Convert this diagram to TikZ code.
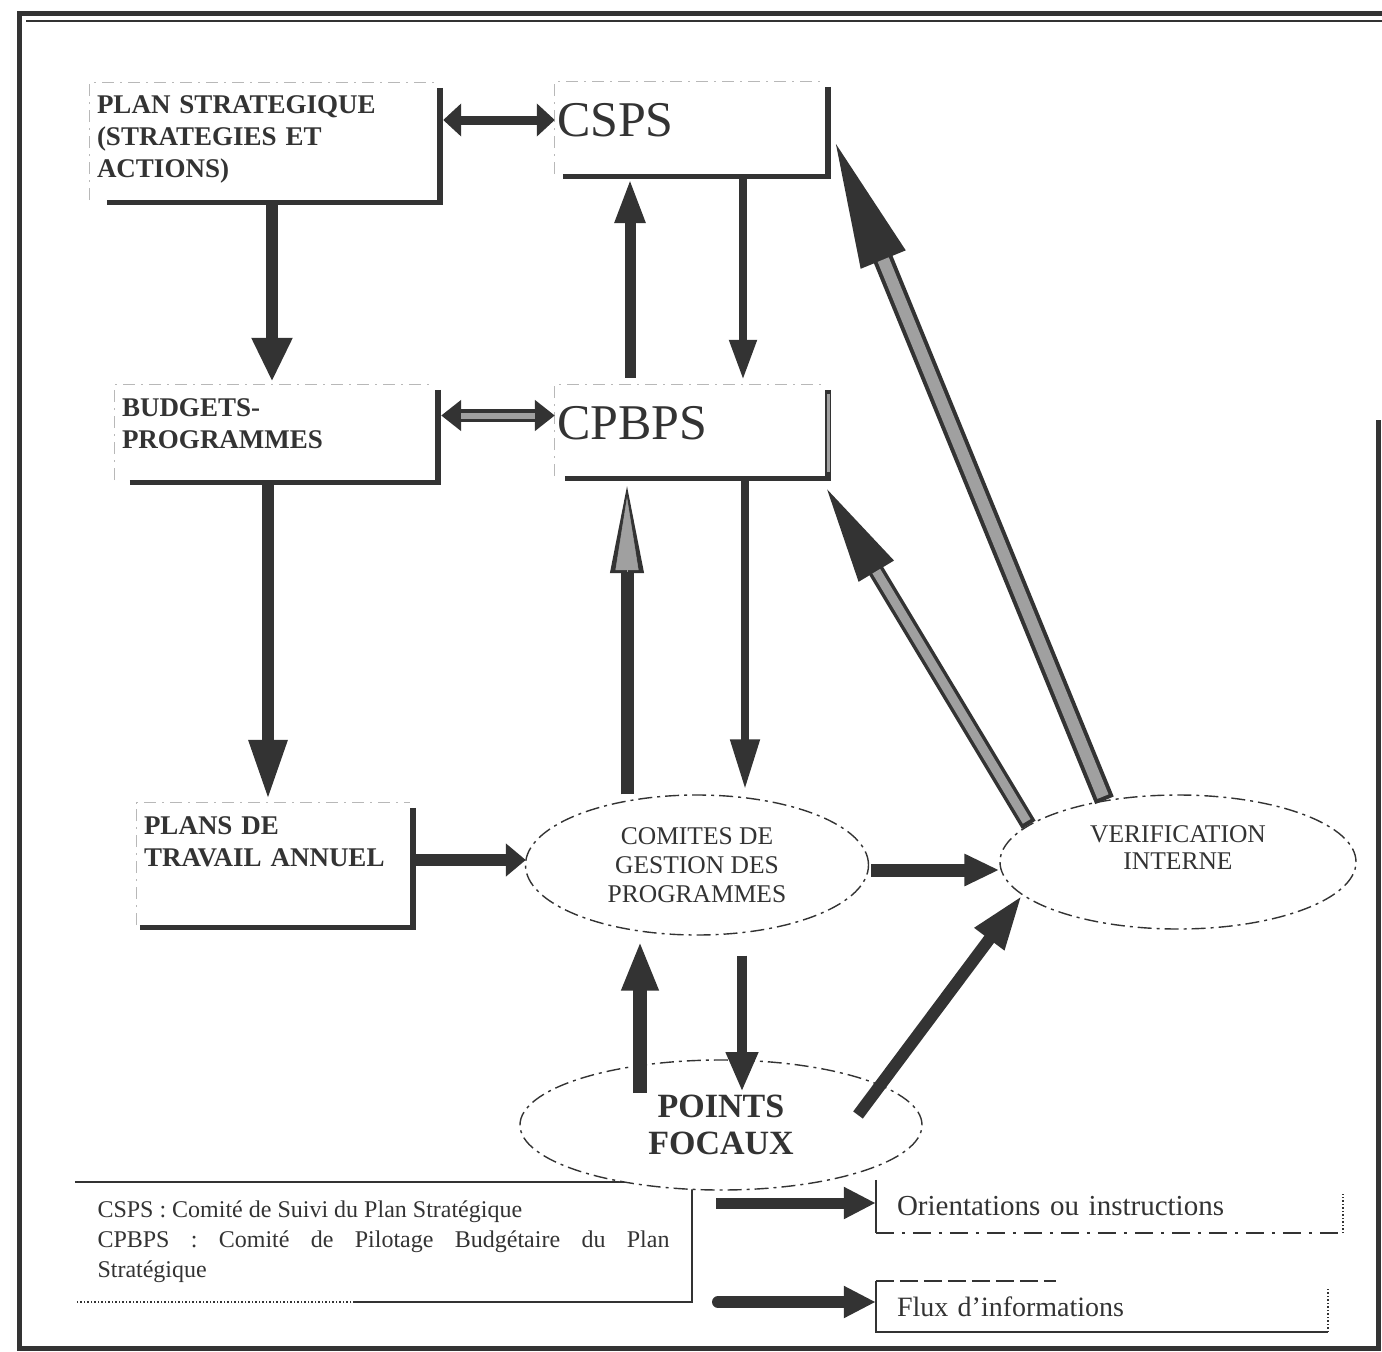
\documentclass[tikz,border=0pt]{standalone}
\usepackage{fontspec}
\setmainfont{Liberation Serif}
\usetikzlibrary{arrows.meta,shapes.geometric,calc}
\definecolor{ink}{HTML}{333333}
\definecolor{fillg}{HTML}{A0A0A0}
\newcommand\shbox[2]{%
  \draw[ink,line width=6pt] ([xshift=3pt,yshift=-5pt]#1.north east) -- ([xshift=3pt,yshift=-5pt]#1.south east);
  \draw[ink,line width=5pt] ([xshift=#2,yshift=-2.5pt]#1.south west) -- ([xshift=6pt,yshift=-2.5pt]#1.south east);
  \draw[faint] (#1.south west) -- (#1.north west) -- (#1.north east);
}
\begin{document}
\begin{tikzpicture}[x=1pt,y=-1pt,
  sbox/.style={rectangle, inner xsep=7pt, inner ysep=0pt, align=left, text=ink, font=\fontsize{27}{32}\selectfont\bfseries},
  bigbox/.style={rectangle, inner xsep=2pt, inner ysep=0pt, align=left, text=ink, font=\fontsize{50}{56}\selectfont, minimum width=270pt, text width=266pt, text depth=16pt},
  ell/.style={ellipse, draw=ink, line width=1.4pt, dash pattern=on 14pt off 5pt on 3pt off 5pt, fill=white, inner sep=0pt, align=center, text=ink},
  faint/.style={draw=black!28, line width=1pt, dash pattern=on 12pt off 6pt on 2pt off 6pt},
  legtxt/.style={rectangle, inner ysep=0pt, text=ink},
]
\useasboundingbox (0,0) rectangle (1382,1352);
% frame
\draw[ink, line width=5pt] (1378,420) -- (1378,1348) -- (19,1348) -- (19,13) -- (1382,13);
\draw[ink, line width=1.2pt] (26,21) -- (1382,21);

% boxes
\node[sbox, text width=333pt, minimum height=117pt, text depth=73pt] (ps) at (263.5,141.5) {PLAN STRATEGIQUE\\(STRATEGIES ET\\ACTIONS)};
\node[sbox, text width=306pt, minimum height=95pt, text depth=49pt] (bp) at (275,432.5) {BUDGETS-\\PROGRAMMES};
\node[sbox, text width=259pt, minimum height=122pt, text depth=76pt] (pt) at (273.5,864) {PLANS DE\\TRAVAIL ANNUEL};
\node[bigbox, minimum height=92pt] (csps) at (690,128) {CSPS};
\node[bigbox, minimum height=91pt] (cpbps) at (690,430.5) {CPBPS};
\shbox{ps}{17pt}
\shbox{bp}{15pt}
\shbox{pt}{3pt}
\shbox{csps}{8pt}
\shbox{cpbps}{10pt}
\draw[fillg, line width=3pt] ([xshift=3pt,yshift=-9pt]cpbps.north east) -- ([xshift=3pt,yshift=4pt]cpbps.south east);

% legend
\node[legtxt, inner xsep=22.5pt, text width=572pt, minimum height=120pt, align=justify, font=\fontsize{24}{30}\selectfont] (lg) at (383.5,1242) {CSPS : Comité de Suivi du Plan Stratégique\\CPBPS : Comité de Pilotage Budgétaire du Plan\linebreak Stratégique};
\draw[ink, line width=1.5pt] (lg.north west) -- (lg.north east) -- (lg.south east) -- ([xshift=280pt]lg.south west);
\draw[ink, line width=1.5pt, dotted] ([xshift=280pt]lg.south west) -- (lg.south west);
\node[legtxt, inner xsep=21pt, text width=425pt, minimum height=53pt, align=left, font=\fontsize{29}{30}\selectfont] (ori) at (1109.5,1206.5) {Orientations ou instructions};
\node[legtxt, inner xsep=21pt, text width=410pt, minimum height=51pt, align=left, font=\fontsize{28}{30}\selectfont] (flux) at (1102,1306.5) {Flux d'informations};
\draw[ink, line width=1.5pt] (ori.north west) -- (ori.south west);
\draw[ink, line width=1.5pt, dash pattern=on 18pt off 8pt on 3pt off 8pt] (ori.south west) -- (ori.south east);
\draw[ink, line width=1.5pt, dotted] (ori.south east) -- ([yshift=-14pt]ori.north east);
\draw[ink, line width=1.5pt] (flux.north west) -- (flux.south west) -- (flux.south east);
\draw[ink, line width=1.5pt, dash pattern=on 18pt off 6pt] (flux.north west) -- ([xshift=180pt]flux.north west);
\draw[ink, line width=1.5pt, dotted] (flux.south east) -- ([yshift=-6pt]flux.north east);

% ellipses
\node[ell, minimum width=343pt, minimum height=140pt, font=\fontsize{25.5}{29}\selectfont] (cgp) at (697,865) {COMITES DE\\GESTION DES\\PROGRAMMES};
\node[ell, minimum width=356pt, minimum height=134pt, font=\fontsize{25.5}{27}\selectfont, text depth=28pt] (ver) at (1178,862) {VERIFICATION\\INTERNE};
\node[ell, minimum width=402pt, minimum height=130pt, font=\fontsize{34}{37}\selectfont\bfseries] (pf) at (721,1125) {POINTS\\FOCAUX};

% arrows
\draw[ink, line width=9pt, {Triangle[length=18pt,width=32pt]}-{Triangle[length=18pt,width=32pt]}] ([xshift=6pt,yshift=21.5pt]ps.east) -- ([yshift=8pt]csps.west);
\draw[ink, line width=13pt, {Triangle[length=20pt,width=30pt]}-{Triangle[length=20pt,width=30pt]}] ([xshift=6pt,yshift=17pt]bp.east) -- ([yshift=15pt]cpbps.west);
\draw[fillg, line width=6pt, shorten <=20pt, shorten >=20pt] ([xshift=6pt,yshift=17pt]bp.east) -- ([yshift=15pt]cpbps.west);
\draw[ink, line width=12pt, -{Triangle[length=44pt,width=38pt]}] ([xshift=8.5pt,yshift=-5pt]ps.south) -- ([xshift=-3pt,yshift=3pt]bp.north);
\draw[ink, line width=12pt, -{Triangle[length=60pt,width=36pt]}] ([xshift=-7pt,yshift=-5pt]bp.south) -- ([xshift=-5.5pt,yshift=3pt]pt.north);
\draw[ink, line width=8pt, -{Triangle[length=40pt,width=26pt]}] ([xshift=53pt,yshift=-4pt]csps.south) -- ([xshift=53pt,yshift=5pt]cpbps.north);
\draw[ink, line width=11pt, -{Triangle[length=45pt,width=28pt]}] ([xshift=-60pt,yshift=7pt]cpbps.north) -- ([xshift=-60pt,yshift=-4pt]csps.south);
\draw[ink, line width=13pt, -{Triangle[length=95pt,width=30pt]}] ([xshift=-70pt]cgp.north) -- ([xshift=-63pt,yshift=-2pt]cpbps.south);
\draw[fillg, line width=0.5pt, shorten >=19pt, -{Triangle[length=73pt,width=23pt]}] ([xshift=-63pt,yshift=-96pt]cpbps.south) -- ([xshift=-63pt,yshift=-2pt]cpbps.south);
\draw[ink, line width=8pt, -{Triangle[length=50pt,width=28pt]}] ([xshift=55pt,yshift=-5pt]cpbps.south) -- ([xshift=48pt,yshift=5pt]cgp.north);
\draw[ink, line width=12pt, -{Triangle[length=20pt,width=32pt]}] ([xshift=6pt,yshift=4pt]pt.east) -- ([xshift=1pt,yshift=5pt]cgp.west);
\draw[ink, line width=13pt, -{Triangle[length=35pt,width=30pt]}] ([xshift=2pt,yshift=-5pt]cgp.east) -- ([yshift=-8pt]ver.west);
\draw[ink, line width=14pt, -{Triangle[length=50pt,width=34pt]}] ([xshift=-81pt,yshift=32pt]pf.center) -- ([xshift=-57pt,yshift=-5pt]cgp.south);
\draw[ink, line width=10pt, -{Triangle[length=40pt,width=30pt]}] ([xshift=45pt,yshift=-20pt]cgp.south) -- ([xshift=21pt,yshift=33pt]pf.center);
\draw[ink, line width=12pt, -{Triangle[length=55pt,width=34pt]}] ([xshift=137pt,yshift=10pt]pf.center) -- (ver.192.6);
\draw[ink, line width=20pt, -{Triangle[length=140pt,width=42pt]}] (ver.140) -- ([xshift=5pt,yshift=-2pt]csps.east);
\draw[fillg, line width=12pt, shorten <=4pt, shorten >=140pt] (ver.140) -- ([xshift=5pt,yshift=-2pt]csps.east);
\draw[ink, line width=16pt, -{Triangle[length=105pt,width=36pt]}] (ver.166) -- ([xshift=-3pt,yshift=-5pt]cpbps.south east);
\draw[fillg, line width=9pt, shorten <=4pt, shorten >=105pt] (ver.166) -- ([xshift=-3pt,yshift=-5pt]cpbps.south east);

% legend arrows
\coordinate (la1) at (716,1203);
\coordinate (la2) at (718,1302);
\draw[ink, line width=11pt, -{Triangle[length=32pt,width=30pt]}] (la1) -- ([yshift=3.5pt]ori.west);
\draw[ink, line width=12pt, line cap=round, -{Triangle[length=32pt,width=30pt]}] (la2) -- ([yshift=4.5pt]flux.west);
\end{tikzpicture}
\end{document}
